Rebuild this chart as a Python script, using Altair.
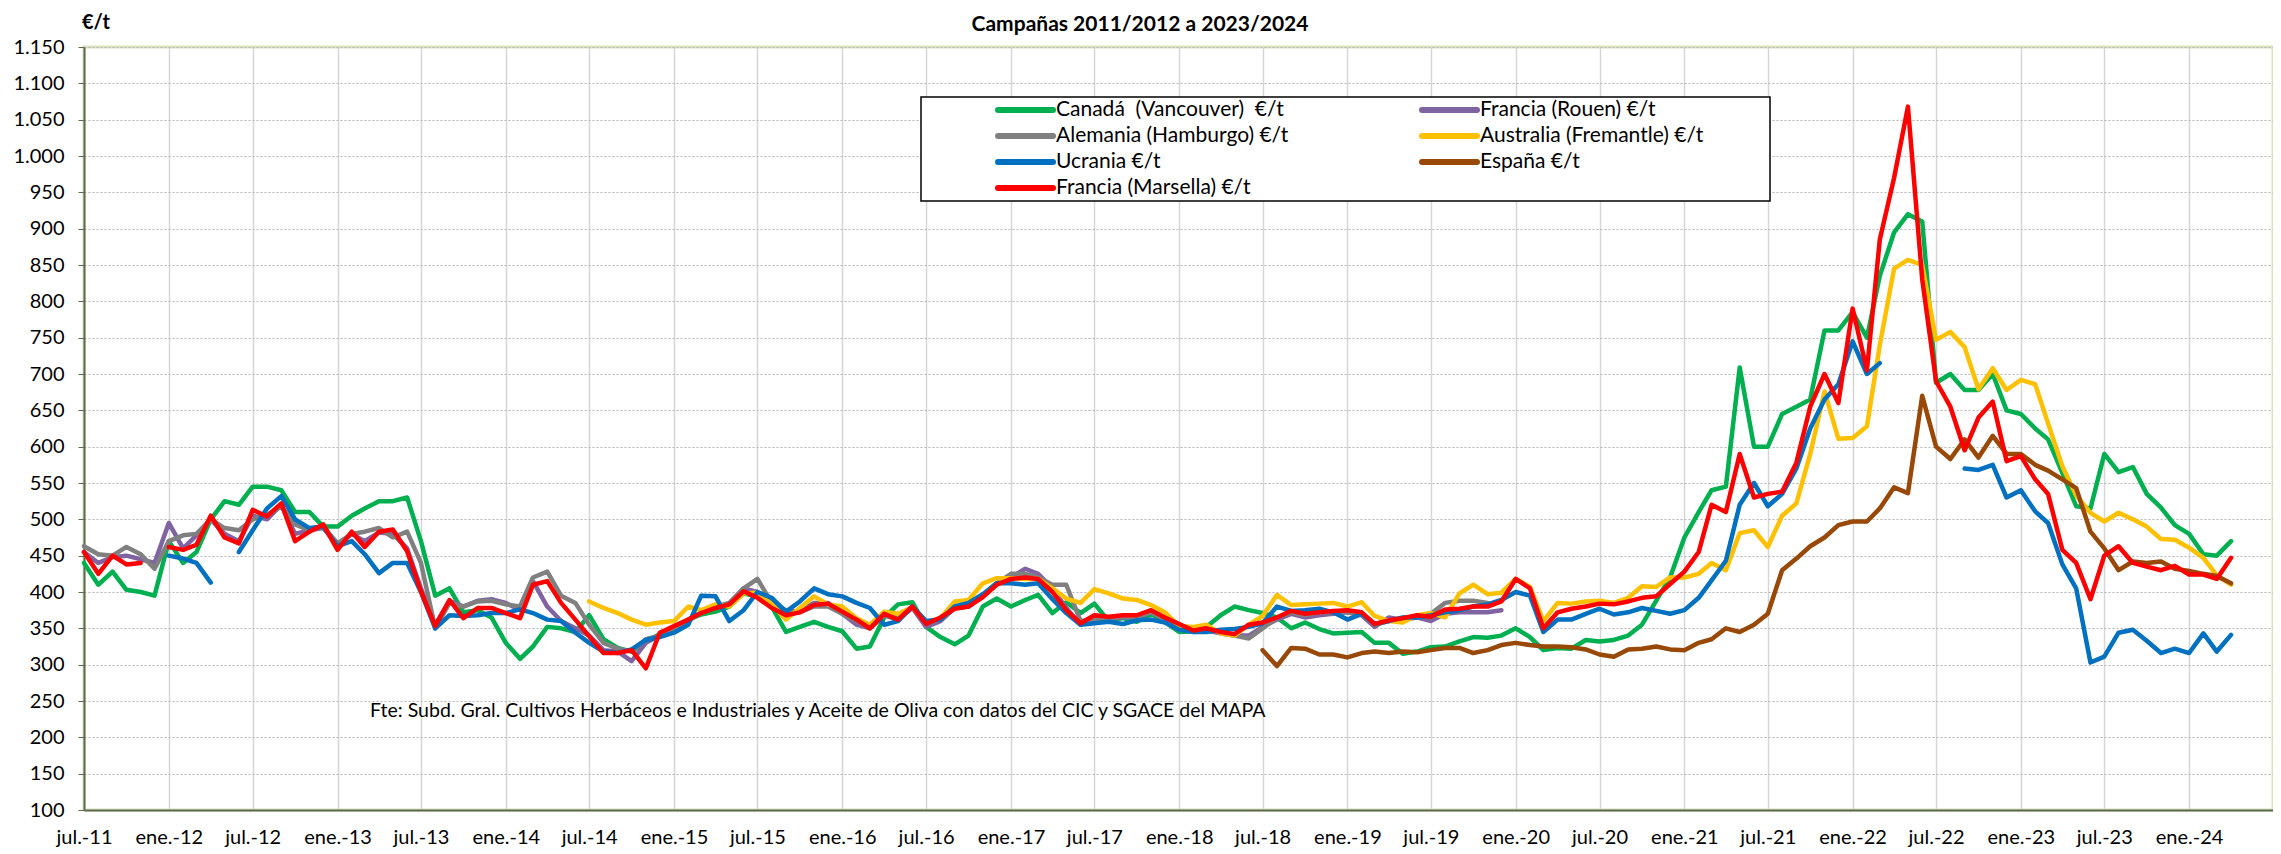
import altair as alt
import pandas as pd

# ---------------- data (monthly readings, jul.-2011 ... abr.-2024) ----------------
FIRST_MONTH = "2011-07-01"
N_MONTHS = 154

canada = [
    440, 410, 428, 403, 400, 395,
    470, 440, 455, 500, 525, 520,
    545, 545, 540, 510, 510, 490,
    490, 505, 515, 525, 525, 530,
    470, 395, 405, 372, 375, 365,
    330, 308, 325, 352, 350, 345,
    368, 335, 323, 318, 332, 342,
    350, 362, 369, 373, 380, 398,
    394, 380, 345, 352, 359, 352,
    346, 322, 325, 365, 383, 386,
    352, 338, 328, 340, 380, 391,
    380, 389, 396, 371, 386, 371,
    384, 360, 364, 359, 370, 359,
    345, 346, 352, 368, 380, 375,
    371, 365, 350, 358, 349, 343,
    344, 345, 330, 330, 315, 318,
    324, 325, 332, 338, 337, 340,
    350, 338, 320, 323, 322, 334,
    332, 334, 340, 355, 388, 420,
    475, 510, 540, 545, 709, 600,
    600, 645, 655, 665, 760, 760,
    785, 750, 835, 895, 920, 910,
    688, 700, 678, 678, 700, 650,
    645, 625, 610, 564, 518, 515,
    590, 565, 572, 535, 516, 492,
    480, 452, 450, 470,
]

rouen = [
    455, 440, 448, 450, 445, 440,
    495, 460, 478, 500, 480, 470,
    505, 500, 520, 480, 485, 488,
    465, 480, 470, 482, 480, 460,
    405, 355, 388, 380, 388, 390,
    385, 375, 415, 380, 360, 350,
    340, 320, 318, 305, 330, 340,
    350, 362, 372, 380, 383, 405,
    400, 385, 370, 375, 385, 385,
    370, 355, 350, 368, 362, 378,
    352, 360, 378, 380, 395, 412,
    420, 432, 425, 405, 378, 355,
    362, 363, 365, 365, 372, 362,
    352, 345, 347, 343, 340, 340,
    352, 362, 370, 365, 368, 370,
    372, 368, 352, 365, 362, 365,
    360, 370, 372, 372, 372, 375,
] + [None] * 52

hamburgo = [
    463, 452, 450, 462, 452, 432,
    470, 478, 480, 500, 488, 485,
    500, 506, 518, 493, 485, 490,
    467, 480, 483, 488, 475, 483,
    440, 350, 385, 380, 387, 388,
    383, 380, 420, 428, 395, 385,
    355, 330, 322, 318, 335, 340,
    350, 360, 372, 380, 385, 405,
    418, 385, 375, 372, 380, 380,
    370, 360, 350, 368, 365, 380,
    358, 362, 378, 380, 395, 412,
    425, 425, 420, 410, 410, 360,
    362, 365, 366, 366, 372, 362,
    352, 346, 348, 345, 340, 336,
    350, 365, 372, 368, 372, 372,
    372, 370, 355, 360, 364, 367,
    370, 385, 388, 388, 385,
] + [None] * 53

australia = [None] * 36 + [
    387, 378, 371, 362, 355, 358,
    360, 380, 375, 383, 380, 398,
    399, 383, 362, 378, 394, 383,
    380, 364, 355, 373, 370, 379,
    358, 364, 387, 389, 412, 419,
    419, 418, 418, 405, 391, 385,
    404, 398, 391, 389, 382, 372,
    353, 352, 355, 343, 340, 355,
    367, 396, 382, 383, 384, 385,
    380, 386, 367, 360, 358, 368,
    371, 365, 398, 410, 397, 399,
    418, 407, 360, 385, 384, 387,
    388, 385, 392, 408, 407, 420,
    420, 425, 440, 430, 481, 485,
    462, 505, 522, 590, 676, 611,
    612, 628, 740, 845, 857, 850,
    747, 758, 737, 679, 708, 678,
    692, 686, 632, 573, 533, 509,
    497, 509, 500, 490, 473, 472,
    461, 447, 423, 410,
]

ucrania = [
    None, None, None, None, None, None,
    450, 446, 440, 413, None, 455,
    485, 515, 532, 500, 488, 490,
    463, 470, 452, 426, 440, 440,
    400, 350, 368, 367, 368, 371,
    371, 376, 371, 362, 360, 344,
    330, 318, 316, 321, 334, 338,
    344, 355, 395, 394, 360, 375,
    400, 392, 373, 387, 405, 397,
    394, 385, 378, 355, 360, 380,
    360, 362, 380, 385, 397, 412,
    412, 410, 412, 390, 371, 355,
    357, 359, 356, 361, 362, 358,
    348, 345, 345, 348, 349, 352,
    357, 380, 374, 375, 377, 372,
    362, 370, 356, 360, 365, 365,
    368, 372, 375, 380, 383, 389,
    400, 395, 345, 362, 362, 370,
    377, 369, 372, 378, 374, 370,
    375, 392, 416, 443, 520, 550,
    518, 535, 570, 625, 665, 686,
    745, 700, 715, None, None, None,
    None, None, 570, 568, 575, 530,
    540, 511, 495, 438, 405, 303,
    311, 344, 348, 333, 316, 322,
    316, 343, 318, 341,
]

espana = [None] * 84 + [
    320, 298, 323, 322, 314, 314,
    310, 316, 318, 316, 318, 317,
    320, 323, 323, 316, 320, 327,
    330, 327, 325, 325, 324, 321,
    314, 311, 321, 322, 325, 321,
    320, 330, 335, 350, 345, 355,
    370, 430, 446, 463, 475, 492,
    497, 497, 515, 544, 536, 670,
    600, 583, 610, 585, 615, 590,
    590, 575, 567, 555, 543, 483,
    460, 430, 442, 440, 442, 432,
    429, 425, 422, 412,
]

marsella = [
    455, 425, 450, 438, 440, None,
    462, 458, 465, 505, 475, 467,
    513, 504, 522, 470, 483, 493,
    458, 483, 462, 483, 486, 456,
    401, 353, 389, 364, 378, 378,
    371, 364, 410, 415, 385, 362,
    339, 316, 316, 320, 295, 344,
    353, 362, 371, 378, 383, 401,
    392, 378, 368, 372, 382, 384,
    373, 362, 350, 370, 362, 380,
    356, 365, 377, 380, 393, 410,
    418, 420, 418, 400, 375, 357,
    368, 366, 368, 368, 375, 365,
    356, 347, 350, 345, 342, 355,
    358, 365, 374, 370, 372, 374,
    375, 372, 356, 361, 364, 368,
    366, 376, 377, 380, 380, 387,
    418, 405, 350, 372, 377, 380,
    384, 383, 387, 392, 394, 411,
    428, 455, 520, 510, 590, 530,
    535, 538, 578, 655, 700, 660,
    790, 705, 885, 970, 1068, 830,
    690, 655, 595, 640, 662, 580,
    587, 555, 535, 458, 440, 390,
    450, 463, 440, 435, 430, 436,
    424, 424, 418, 447,
]

series_names = [
    "Canadá\u00a0 (Vancouver)\u00a0 €/t",
    "Francia (Rouen) €/t",
    "Alemania (Hamburgo) €/t",
    "Australia (Fremantle) €/t",
    "Ucrania €/t",
    "España €/t",
    "Francia (Marsella) €/t",
]
series_values = [canada, rouen, hamburgo, australia, ucrania, espana, marsella]
series_colors = ["#00b050", "#8064a2", "#808080", "#ffc000", "#0070c0", "#984807", "#ff0000"]
legend_col = [0, 1, 0, 1, 0, 1, 0]
legend_row = [0, 0, 1, 1, 2, 2, 3]

y_ticks = list(range(100, 1151, 50))
title_text = "Campañas 2011/2012 a 2023/2024"
unit_text = "€/t"
source_text = ("Fte: Subd. Gral. Cultivos Herbáceos e Industriales y Aceite de Oliva "
               "con datos del CIC y SGACE del MAPA")

# ---------------- table ----------------
dates = pd.date_range(FIRST_MONTH, periods=N_MONTHS, freq="MS").strftime("%Y-%m-%d")
rows = []
for name, vals in zip(series_names, series_values):
    assert len(vals) == N_MONTHS, (name, len(vals))
    for d, v in zip(dates, vals):
        rows.append({"fecha": d, "serie": name, "valor": v})
df = pd.DataFrame(rows)


def ms(s):
    return int(pd.Timestamp(s).value // 10**6)


x_tick_values = [ms(d) for d in pd.date_range("2011-07-01", "2024-01-01", freq="6MS")]

# ---------------- style / layout ----------------
FONT = "Lato"
AXIS_COLOR = "#5f6b4e"
W, H = 2189, 763

x_enc = alt.X(
    "fecha:T",
    scale=alt.Scale(type="utc", domain=[ms("2011-07-01"), ms("2024-07-01")]),
    axis=alt.Axis(
        values=x_tick_values,
        labelExpr="(utcmonth(datum.value) == 0 ? 'ene.' : 'jul.') + '-' + utcFormat(datum.value, '%y')",
        grid=True, gridColor="#d6d6d6", gridWidth=1.5,
        ticks=False, domainColor=AXIS_COLOR, domainWidth=2,
        labelFont=FONT, labelFontSize=20, labelColor="black", labelPadding=17,
        labelOverlap=False, labelFlush=False, labelAngle=0, title=None,
    ),
)
y_enc = alt.Y(
    "valor:Q",
    scale=alt.Scale(domain=[100, 1150], nice=False, zero=False),
    axis=alt.Axis(
        values=y_ticks,
        labelExpr="replace(format(datum.value, ','), ',', '.')",
        grid=True, gridColor="#b4b4b4", gridDash=[2, 2], gridWidth=1,
        tickSize=6, tickColor=AXIS_COLOR, domainColor=AXIS_COLOR, domainWidth=2,
        labelFont=FONT, labelFontSize=20, labelColor="black", labelPadding=14,
        title=None,
    ),
)

layers = []
for name, color in zip(series_names, series_colors):
    layers.append(
        alt.Chart(df)
        .transform_filter(alt.datum.serie == name)
        .mark_line(color=color, strokeWidth=4.5, strokeJoin="round", strokeCap="round")
        .encode(x=x_enc, y=y_enc)
    )

one = pd.DataFrame({"k": [0]})

# legend box
layers.append(
    alt.Chart(one).mark_rect(fill="white", stroke="black", strokeWidth=1.5)
    .encode(x=alt.value(837), x2=alt.value(1686), y=alt.value(50), y2=alt.value(154))
)
for name, color, c, r in zip(series_names, series_colors, legend_col, legend_row):
    x0 = 914 + 424 * c
    yy = 63 + 26 * r
    layers.append(
        alt.Chart(one).mark_rule(color=color, strokeWidth=6, strokeCap="round")
        .encode(x=alt.value(x0), x2=alt.value(x0 + 55), y=alt.value(yy))
    )
    layers.append(
        alt.Chart(one).mark_text(text=name, font=FONT, fontSize=21, align="left",
                                 baseline="middle", color="black")
        .encode(x=alt.value(x0 + 58), y=alt.value(yy))
    )

layers.append(
    alt.Chart(one).mark_text(text=title_text, font=FONT, fontSize=21, fontWeight="bold",
                             align="center", baseline="alphabetic", color="black")
    .encode(x=alt.value(1056), y=alt.value(-16))
)
layers.append(
    alt.Chart(one).mark_text(text=unit_text, font=FONT, fontSize=20, fontWeight="bold",
                             align="left", baseline="middle", color="black")
    .encode(x=alt.value(-2), y=alt.value(-24))
)
layers.append(
    alt.Chart(one).mark_text(text=source_text, font=FONT, fontSize=19.5, align="left",
                             baseline="middle", color="black")
    .encode(x=alt.value(286), y=alt.value(664))
)

chart = (
    alt.layer(*layers)
    .properties(
        width=W, height=H,
        padding={"left": 76, "top": 39, "right": 0, "bottom": 40},
        autosize=alt.AutoSizeParams(type="none"),
        background="white",
    )
    .configure_view(stroke="#d7e4bd", strokeWidth=3)
)

chart.save("out.html", embed_options={"renderer": "svg", "actions": False})
